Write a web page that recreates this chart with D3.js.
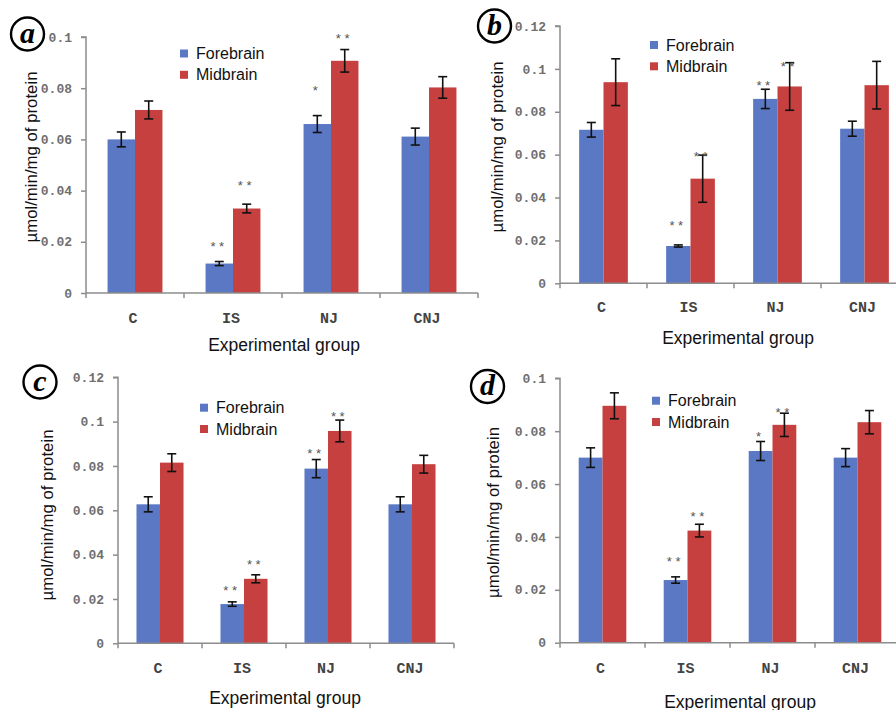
<!DOCTYPE html>
<html>
<head>
<meta charset="utf-8">
<script src="https://cdn.jsdelivr.net/npm/d3@7"></script>
<style>
  html, body { margin: 0; padding: 0; background: #fff; }
  svg { display: block; }
</style>
</head>
<body>
<svg id="chart" width="896" height="710"></svg>
<script>
// ---------------- DATA ----------------
const categories = ["C", "IS", "NJ", "CNJ"];
const seriesNames = ["Forebrain", "Midbrain"];
const xTitle = "Experimental group";
const yTitle = "µmol/min/mg of protein";

// panel a
const aForebrain    = [0.0600, 0.0115, 0.0660, 0.0611];
const aForebrainErr = [0.0029, 0.0008, 0.0033, 0.0033];
const aMidbrain     = [0.0715, 0.0330, 0.0907, 0.0803];
const aMidbrainErr  = [0.0035, 0.0017, 0.0044, 0.0042];
const aForebrainSig = ["", "**", "*", ""];
const aMidbrainSig  = ["", "**", "**", ""];
const aTicks = [0, 0.02, 0.04, 0.06, 0.08, 0.1];
const aTickLabels = ["0", "0.02", "0.04", "0.06", "0.08", "0.1"];

// panel b
const bForebrain    = [0.0716, 0.0174, 0.0860, 0.0721];
const bForebrainErr = [0.0034, 0.0005, 0.0045, 0.0035];
const bMidbrain     = [0.0938, 0.0488, 0.0918, 0.0924];
const bMidbrainErr  = [0.0109, 0.0110, 0.0111, 0.0111];
const bForebrainSig = ["", "**", "**", ""];
const bMidbrainSig  = ["", "**", "**", ""];
const bTicks = [0, 0.02, 0.04, 0.06, 0.08, 0.1, 0.12];
const bTickLabels = ["0", "0.02", "0.04", "0.06", "0.08", "0.1", "0.12"];

// panel c
const cForebrain    = [0.0627, 0.0177, 0.0788, 0.0627];
const cForebrainErr = [0.0034, 0.0010, 0.0041, 0.0034];
const cMidbrain     = [0.0815, 0.0291, 0.0958, 0.0808];
const cMidbrainErr  = [0.0040, 0.0018, 0.0049, 0.0040];
const cForebrainSig = ["", "**", "**", ""];
const cMidbrainSig  = ["", "**", "**", ""];
const cTicks = [0, 0.02, 0.04, 0.06, 0.08, 0.1, 0.12];
const cTickLabels = ["0", "0.02", "0.04", "0.06", "0.08", "0.1", "0.12"];

// panel d
const dForebrain    = [0.0700, 0.0237, 0.0725, 0.0700];
const dForebrainErr = [0.0037, 0.0012, 0.0036, 0.0034];
const dMidbrain     = [0.0896, 0.0424, 0.0824, 0.0834];
const dMidbrainErr  = [0.0049, 0.0024, 0.0044, 0.0044];
const dForebrainSig = ["", "**", "*", ""];
const dMidbrainSig  = ["", "**", "**", ""];
const dTicks = [0, 0.02, 0.04, 0.06, 0.08, 0.1];
const dTickLabels = ["0", "0.02", "0.04", "0.06", "0.08", "0.1"];

// ---------------- LAYOUT ----------------
const colors = ["#5a78c4", "#c5403e"];
const layouts = {
  a: { x0: 86,  band: 98, y0: 293,   yTop: 37,    yMax: 0.1,
       circle: [27.5, 34], legend: [180, 53.5], yTitleX: 31, yTitleY: 157,
       xLabelY: 323, xTitleX: 284, xTitleY: 350.5,
       starOff: [[0, 18.5, 27.6, 0], [0, 21.7, 13.8, 0]] },
  b: { x0: 560, band: 87, y0: 283.3, yTop: 26,    yMax: 0.12,
       circle: [494.5, 26], legend: [650, 45], yTitleX: 497, yTitleY: 147,
       xLabelY: 312, xTitleX: 738, xTitleY: 344,
       starOff: [[0, 22, 7, 0], [0, 1.7, -0.7, 0]] },
  c: { x0: 118, band: 84, y0: 643.3, yTop: 377.3, yMax: 0.12,
       circle: [40, 382], legend: [200, 407.7], yTitleX: 47, yTitleY: 515,
       xLabelY: 673, xTitleX: 285, xTitleY: 704,
       starOff: [[0, 14, 9.5, 0], [0, 13.8, 6.8, 0]] },
  d: { x0: 560, band: 85, y0: 642.7, yTop: 378.3, yMax: 0.1,
       circle: [487.5, 386.5], legend: [652, 400.7], yTitleX: 493, yTitleY: 512.5,
       xLabelY: 673, xTitleX: 740, xTitleY: 707.5,
       starOff: [[0, 18, 7.6, 0], [0, 10.3, 3.3, 0]] }
};

const panels = [
  { key: "a", vals: [aForebrain, aMidbrain], errs: [aForebrainErr, aMidbrainErr], sig: [aForebrainSig, aMidbrainSig], ticks: aTicks, tickLabels: aTickLabels },
  { key: "b", vals: [bForebrain, bMidbrain], errs: [bForebrainErr, bMidbrainErr], sig: [bForebrainSig, bMidbrainSig], ticks: bTicks, tickLabels: bTickLabels },
  { key: "c", vals: [cForebrain, cMidbrain], errs: [cForebrainErr, cMidbrainErr], sig: [cForebrainSig, cMidbrainSig], ticks: cTicks, tickLabels: cTickLabels },
  { key: "d", vals: [dForebrain, dMidbrain], errs: [dForebrainErr, dMidbrainErr], sig: [dForebrainSig, dMidbrainSig], ticks: dTicks, tickLabels: dTickLabels }
];

const svg = d3.select("#chart");
const axisColor = "#8c8c8c";
const tickFont = "'Liberation Mono', 'Courier New', monospace";
const sansFont = "'Liberation Sans', Arial, sans-serif";

panels.forEach(p => {
  const L = layouts[p.key];
  const g = svg.append("g");
  const x = d3.scaleBand().domain(categories).range([L.x0, L.x0 + L.band * categories.length]).padding(0);
  const y = d3.scaleLinear().domain([0, L.yMax]).range([L.y0, L.yTop]);
  const barW = x.bandwidth() * 0.28;

  // bars
  seriesNames.forEach((s, si) => {
    g.selectAll(null).data(categories).enter().append("rect")
      .attr("x", c => x(c) + x.bandwidth() / 2 + (si - 1) * barW)
      .attr("y", (c, i) => y(p.vals[si][i]))
      .attr("width", barW)
      .attr("height", (c, i) => y(0) - y(p.vals[si][i]))
      .attr("fill", colors[si]);
  });

  // y axis
  const yAxis = d3.axisLeft(y).tickValues(p.ticks).tickFormat((d, i) => p.tickLabels[i]).tickSize(5).tickPadding(9);
  const ya = g.append("g").attr("transform", `translate(${L.x0},0)`).call(yAxis);
  ya.select(".domain").attr("stroke", axisColor).attr("stroke-width", 1.5).attr("d", `M-5,${L.yTop}H0V${L.y0}`);
  ya.selectAll(".tick line").attr("stroke", axisColor).attr("stroke-width", 1.5);
  ya.selectAll(".tick text").attr("fill", "#6f6f6f").style("font-family", tickFont).style("font-size", "13px").style("font-weight", "bold");

  // x axis
  const xa = g.append("g").attr("transform", `translate(0,${L.y0})`);
  xa.append("line").attr("x1", L.x0).attr("x2", x.range()[1]).attr("y1", 0).attr("y2", 0)
    .attr("stroke", axisColor).attr("stroke-width", 1.5);
  const bounds = categories.map(c => x(c)).concat([x.range()[1]]);
  xa.selectAll(null).data(bounds).enter().append("line")
    .attr("x1", d => d).attr("x2", d => d).attr("y1", 0).attr("y2", 5)
    .attr("stroke", axisColor).attr("stroke-width", 1.5);
  g.selectAll(null).data(categories).enter().append("text")
    .attr("x", c => x(c) + x.bandwidth() / 2 - 2)
    .attr("y", L.xLabelY)
    .attr("text-anchor", "middle")
    .attr("fill", "#444")
    .style("font-family", tickFont).style("font-size", "15px").style("font-weight", "bold")
    .text(c => c);

  // error bars + stars
  seriesNames.forEach((s, si) => {
    categories.forEach((c, i) => {
      const cx = x(c) + x.bandwidth() / 2 + (si - 0.5) * barW;
      const v = p.vals[si][i], e = p.errs[si][i];
      const top = y(v + e), bot = y(v - e);
      g.append("line").attr("x1", cx).attr("x2", cx).attr("y1", top).attr("y2", bot)
        .attr("stroke", "#111").attr("stroke-width", 1.6);
      [top, bot].forEach(yy => g.append("line").attr("x1", cx - 4.5).attr("x2", cx + 4.5)
        .attr("y1", yy).attr("y2", yy).attr("stroke", "#111").attr("stroke-width", 1.6));
      const sig = p.sig[si][i];
      if (sig) {
        const centerY = top - L.starOff[si][i];
        g.append("text").attr("x", cx - 2).attr("y", centerY + 7.5)
          .attr("text-anchor", "middle").attr("fill", "#555")
          .style("font-family", sansFont).style("font-size", "13px")
          .text(sig.split("").join(" "));
      }
    });
  });

  // legend
  seriesNames.forEach((s, si) => {
    const cy = L.legend[1] + si * 21.3;
    g.append("rect").attr("x", L.legend[0]).attr("y", cy - 4).attr("width", 8).attr("height", 8).attr("fill", colors[si]);
    g.append("text").attr("x", L.legend[0] + 16).attr("y", cy + 5.5)
      .attr("fill", "#111").style("font-family", sansFont).style("font-size", "16px").text(s);
  });

  // titles
  g.append("text").attr("transform", `translate(${L.yTitleX},${L.yTitleY}) rotate(-90)`)
    .attr("text-anchor", "middle").attr("dominant-baseline", "central")
    .attr("fill", "#111").style("font-family", sansFont).style("font-size", "16.8px").text(yTitle);
  g.append("text").attr("x", L.xTitleX).attr("y", L.xTitleY).attr("text-anchor", "middle")
    .attr("fill", "#111").style("font-family", sansFont).style("font-size", "17.5px").text(xTitle);

  // circled panel letter
  g.append("circle").attr("cx", L.circle[0]).attr("cy", L.circle[1]).attr("r", 16.5)
    .attr("fill", "#fff").attr("stroke", "#000").attr("stroke-width", 2.4);
  g.append("text").attr("x", L.circle[0]).attr("y", L.circle[1] + 8.5)
    .attr("text-anchor", "middle").attr("fill", "#000")
    .style("font-family", "'Liberation Serif', 'Times New Roman', serif")
    .style("font-size", "30px").style("font-weight", "bold").style("font-style", "italic")
    .text(p.key);
});
</script>
</body>
</html>
